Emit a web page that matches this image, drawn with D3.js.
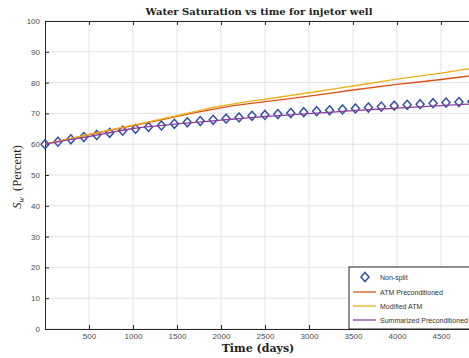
<!DOCTYPE html>
<html>
<head>
<meta charset="utf-8">
<script src="https://cdn.jsdelivr.net/npm/d3@7"></script>
<style>
  body { margin: 0; background: #fff; }
  svg { display: block; }
</style>
</head>
<body>
<div id="main"></div>
<script>
// Non-split samples
const nsTime = [0, 147, 294, 441, 588, 735, 882, 1029, 1176, 1323, 1470, 1617, 1764, 1911, 2058, 2205, 2352,
  2499, 2646, 2793, 2940, 3087, 3234, 3381, 3528, 3675, 3822, 3969, 4116, 4263, 4410, 4557, 4704, 4851];
const nsVal = [60.0, 60.8, 61.6, 62.3, 63.0, 63.7, 64.4, 65.0, 65.6, 66.1, 66.6, 67.1, 67.5, 67.9, 68.3, 68.7, 69.2,
  69.5, 69.8, 70.1, 70.4, 70.7, 71.0, 71.3, 71.6, 71.9, 72.2, 72.5, 72.8, 73.0, 73.3, 73.5, 73.7, 73.9];

// line series
const lineTime = [0, 250, 500, 750, 1000, 1250, 1500, 1750, 2000, 2250, 2500, 3000, 3500, 4000, 4500, 5000];
const atmPre = [60, 61.6, 63.1, 64.6, 66.0, 67.5, 69.0, 70.5, 71.8, 72.9, 73.8, 75.6, 77.6, 79.4, 81.0, 82.8];
const modAtm = [60, 61.6, 63.2, 64.7, 66.2, 67.7, 69.3, 70.9, 72.4, 73.6, 74.6, 76.7, 78.9, 81.1, 83.1, 85.3];
const sumPre = [60, 61.3, 62.5, 63.8, 65.1, 65.9, 66.6, 67.2, 67.8, 68.4, 69.0, 69.9, 70.9, 71.7, 72.5, 73.3];

const xTicks = [500, 1000, 1500, 2000, 2500, 3000, 3500, 4000, 4500];
const yTicks = [0, 10, 20, 30, 40, 50, 60, 70, 80, 90, 100];

const legendNames = ['Non-split', 'ATM Preconditioned', 'Modified ATM', 'Summarized Preconditioned'];
const colors = ['#3350a5', '#d95319', '#edb120', '#8a3ea0'];

const c = {width: 469, height: 358, left: 45, right: 485, top: 21, bottom: 329};

const svg = d3.select('#main').append('svg')
  .attr('width', c.width)
  .attr('height', c.height);

const x = d3.scaleLinear().domain([0, 5000]).range([c.left, c.right]);
const y = d3.scaleLinear().domain([0, 100]).range([c.bottom, c.top]);

svg.append('defs').append('clipPath').attr('id', 'clip')
  .append('rect')
  .attr('x', c.left - 6).attr('y', c.top)
  .attr('width', c.right - c.left + 6).attr('height', c.bottom - c.top);

// grid
const grid = svg.append('g');
grid.selectAll('.gx').data(xTicks).join('line')
  .attr('x1', d => x(d)).attr('x2', d => x(d))
  .attr('y1', c.top).attr('y2', c.bottom)
  .attr('stroke', '#e3e3e3').attr('stroke-width', 1);
grid.selectAll('.gy').data(yTicks).join('line')
  .attr('x1', c.left).attr('x2', c.right)
  .attr('y1', d => y(d)).attr('y2', d => y(d))
  .attr('stroke', '#e3e3e3').attr('stroke-width', 1);

// axes (ticks inward, matlab style)
const tickCol = '#262626';
const xAxisB = svg.append('g').attr('transform', `translate(0,${c.bottom})`)
  .call(d3.axisBottom(x).tickValues(xTicks).tickSize(-4).tickPadding(4).tickFormat(d3.format('d')).tickSizeOuter(0));
const xAxisT = svg.append('g').attr('transform', `translate(0,${c.top})`)
  .call(d3.axisTop(x).tickValues(xTicks).tickSize(-4).tickFormat('').tickSizeOuter(0));
const yAxisL = svg.append('g').attr('transform', `translate(${c.left},0)`)
  .call(d3.axisLeft(y).tickValues(yTicks).tickSize(-4).tickPadding(5).tickSizeOuter(0));

[xAxisB, xAxisT, yAxisL].forEach(a => {
  a.select('.domain').attr('stroke', tickCol).attr('stroke-width', 1);
  a.selectAll('.tick line').attr('stroke', tickCol);
  a.selectAll('.tick text')
    .attr('fill', '#4d4d4d')
    .style('font-family', 'Liberation Sans, Arial, sans-serif')
    .style('font-size', '8px');
});

const plot = svg.append('g').attr('clip-path', 'url(#clip)');

// non-split diamonds (open, matlab 'd' marker)
const diamond = 'M0,-4.5L4,0L0,4.5L-4,0Z';
plot.selectAll('.ns').data(nsTime).join('path')
  .attr('d', diamond)
  .attr('transform', (d, i) => `translate(${x(d)},${y(nsVal[i])})`)
  .attr('fill', 'none')
  .attr('stroke', colors[0])
  .attr('stroke-width', 1.5);

const lineGen = d3.line()
  .x(d => x(d[0]))
  .y(d => y(d[1]))
  .curve(d3.curveMonotoneX);

[atmPre, modAtm, sumPre].forEach((vals, k) => {
  plot.append('path')
    .datum(lineTime.map((t, i) => [t, vals[i]]))
    .attr('d', lineGen)
    .attr('fill', 'none')
    .attr('stroke', colors[k + 1])
    .attr('stroke-width', 1.3);
});

// titles
svg.append('text')
  .attr('x', 259).attr('y', 15)
  .attr('text-anchor', 'middle')
  .style('font-family', 'DejaVu Serif, serif')
  .style('font-weight', 'bold')
  .style('font-size', '10px')
  .attr('fill', '#222')
  .text('Water Saturation vs time for injetor well');

svg.append('text')
  .attr('x', 258).attr('y', 352)
  .attr('text-anchor', 'middle')
  .style('font-family', 'DejaVu Serif, serif')
  .style('font-weight', 'bold')
  .style('font-size', '11px')
  .attr('fill', '#222')
  .text('Time (days)');

const yl = svg.append('text')
  .attr('transform', 'translate(21,177) rotate(-90)')
  .attr('text-anchor', 'middle')
  .style('font-family', 'Liberation Serif, serif')
  .style('font-size', '12.5px')
  .attr('fill', '#222');
yl.append('tspan').style('font-style', 'italic').text('S');
yl.append('tspan').style('font-style', 'italic').style('font-size', '8px').attr('dy', 3).text('w');
yl.append('tspan').attr('dy', -3).text('\u2002(Percent)');

// legend
const lg = svg.append('g').attr('transform', 'translate(349,267)');
lg.append('rect')
  .attr('width', 140).attr('height', c.bottom - 267)
  .attr('fill', '#fff')
  .attr('stroke', '#262626').attr('stroke-width', 1);

const rowY = [10, 25, 39, 53];
legendNames.forEach((name, i) => {
  const g = lg.append('g').attr('transform', `translate(0,${rowY[i]})`);
  if (i === 0) {
    g.append('path')
      .attr('d', diamond)
      .attr('transform', 'translate(16,0)')
      .attr('fill', 'none')
      .attr('stroke', colors[0])
      .attr('stroke-width', 1.5);
  } else {
    g.append('line')
      .attr('x1', 4).attr('x2', 27)
      .attr('stroke', colors[i]).attr('stroke-width', 1.3);
  }
  g.append('text')
    .attr('x', 31).attr('y', 2.5)
    .style('font-family', 'Liberation Sans, Arial, sans-serif')
    .style('font-size', '7px')
    .attr('fill', '#333')
    .text(name);
});
</script>
</body>
</html>
